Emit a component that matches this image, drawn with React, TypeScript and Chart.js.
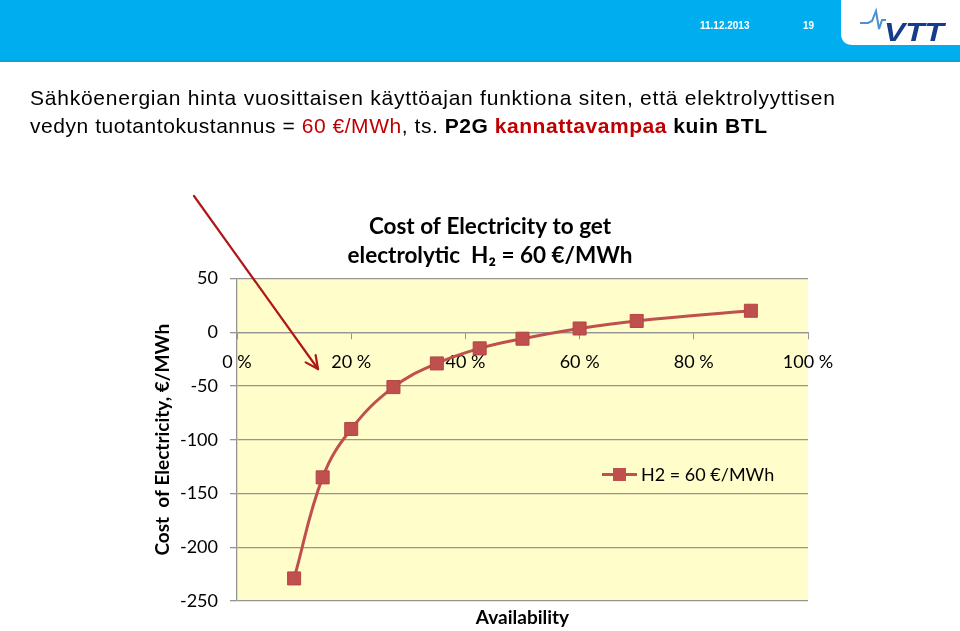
import React, { useEffect, useRef } from 'react';
import { Chart, registerables } from 'chart.js';

Chart.register(...registerables);

// ---- data ----
const availabilityPct = [10, 15, 20, 27.4, 35, 42.5, 50, 60, 70, 90];
const costEurPerMWh = [-229, -135, -90, -51, -29, -15, -6, 3.5, 10.5, 20];
const xTickValues = [0, 20, 40, 60, 80, 100];
const yTickValues = [-250, -200, -150, -100, -50, 0, 50];
const seriesLabel = 'H2 = 60 €/MWh';
const chartTitleLines = ['Cost of Electricity to get', 'electrolytic  H₂ = 60 €/MWh'];
const yAxisTitle = 'Cost  of Electricity, €/MWh';
const xAxisTitle = 'Availability';

const FONT = 'Lato, "Open Sans", sans-serif';
const RED = '#C0504D';
const GRID = '#959595';

const plotBg = {
  id: 'plotBg',
  beforeDraw(chart: any) {
    const { ctx, chartArea: a } = chart;
    ctx.save();
    ctx.fillStyle = '#FFFDC9';
    ctx.fillRect(a.left, a.top, a.right - a.left, a.bottom - a.top);
    ctx.restore();
  },
};

const insideLegend = {
  id: 'insideLegend',
  afterDraw(chart: any) {
    const { ctx, chartArea: a } = chart;
    const ds = chart.data.datasets[0];
    const x0 = a.left + 365;
    const y0 = a.top + 196;
    ctx.save();
    ctx.strokeStyle = ds.borderColor;
    ctx.lineWidth = 3;
    ctx.beginPath();
    ctx.moveTo(x0, y0);
    ctx.lineTo(x0 + 35, y0);
    ctx.stroke();
    ctx.fillStyle = ds.pointBackgroundColor;
    ctx.fillRect(x0 + 17.5 - 6.5, y0 - 6.5, 13, 13);
    ctx.fillStyle = '#000';
    ctx.font = `18px ${FONT}`;
    ctx.textBaseline = 'middle';
    ctx.textAlign = 'left';
    ctx.fillText(ds.label, x0 + 39, y0 + 1);
    ctx.restore();
  },
};

function ChartCanvas() {
  const ref = useRef<HTMLCanvasElement>(null);
  useEffect(() => {
    if (!ref.current) return;
    const chart = new Chart(ref.current, {
      type: 'line',
      data: {
        labels: availabilityPct,
        datasets: [
          {
            label: seriesLabel,
            data: availabilityPct.map((x, i) => ({ x, y: costEurPerMWh[i] })),
            borderColor: RED,
            backgroundColor: RED,
            pointBackgroundColor: RED,
            pointBorderColor: '#B44542',
            pointBorderWidth: 1,
            pointStyle: 'rect',
            pointRadius: 9.2,
            borderWidth: 3,
            tension: 0.4,
            fill: false,
          },
        ],
      },
      options: {
        animation: false,
        responsive: false,
        maintainAspectRatio: false,
        layout: { padding: 0 },
        plugins: {
          legend: { display: false },
          tooltip: { enabled: false },
          title: {
            display: true,
            text: chartTitleLines,
            color: '#000',
            font: { family: FONT, size: 22.5, weight: 'bold', lineHeight: 1.3 },
            padding: { top: 22, bottom: 8 },
          },
        },
        scales: {
          x: {
            type: 'linear',
            position: { y: 0 } as any,
            min: 0,
            max: 100,
            afterBuildTicks: (s: any) => {
              s.ticks = xTickValues.map((v) => ({ value: v }));
            },
            afterFit: (s: any) => {
              s.paddingLeft = 0;
              s.paddingRight = 0;
            },
            ticks: {
              callback: (v: any) => `${v} %`,
              color: '#000',
              font: { family: FONT, size: 18 },
              padding: 13,
              maxRotation: 0,
              autoSkip: false,
            },
            grid: { drawOnChartArea: false, drawTicks: true, tickLength: 6, color: GRID },
            border: { display: true, color: GRID, width: 1.3 },
          },
          x2: {
            type: 'linear',
            position: 'bottom',
            min: 0,
            max: 100,
            ticks: { display: false },
            grid: { display: false, drawTicks: false },
            border: { display: false },
            title: {
              display: true,
              text: xAxisTitle,
              color: '#000',
              font: { family: FONT, size: 19, weight: 'bold', lineHeight: 1.2 },
              padding: { top: 0, bottom: 2 },
            },
            afterFit: (s: any) => {
              s.height = 30;
              s.paddingLeft = 0;
              s.paddingRight = 0;
            },
          },
          y: {
            type: 'linear',
            position: 'left',
            min: -250,
            max: 50,
            afterBuildTicks: (s: any) => {
              s.ticks = yTickValues.map((v) => ({ value: v }));
            },
            ticks: {
              color: '#000',
              font: { family: FONT, size: 18 },
              padding: 12,
            },
            grid: { color: GRID, lineWidth: 1.3, tickLength: 7 },
            border: { display: true, color: GRID, width: 1.3 },
            title: {
              display: true,
              text: yAxisTitle,
              color: '#000',
              font: { family: FONT, size: 19, weight: 'bold', lineHeight: 1.2 },
              padding: { top: 11.5, bottom: 0 },
            },
            afterFit: (s: any) => {
              s.width = 97;
            },
          },
          yRightSpacer: {
            type: 'linear',
            position: 'right',
            min: -250,
            max: 50,
            ticks: { display: false },
            grid: { display: false, drawTicks: false },
            border: { display: false },
            afterFit: (s: any) => {
              s.width = 32;
            },
          },
        },
      } as any,
      plugins: [plotBg, insideLegend],
    });
    return () => chart.destroy();
  }, []);
  return (
    <canvas
      ref={ref}
      width={700}
      height={441}
      style={{ position: 'absolute', left: 140, top: 190, width: 700, height: 441 }}
    />
  );
}

function Overlay() {
  // arrow geometry
  const x1 = 194, y1 = 196, x2 = 318, y2 = 369;
  const dx = x2 - x1, dy = y2 - y1;
  const len = Math.hypot(dx, dy);
  const ux = dx / len, uy = dy / len;
  const head = 14, ang = (26 * Math.PI) / 180;
  const rot = (a: number) => [ux * Math.cos(a) - uy * Math.sin(a), ux * Math.sin(a) + uy * Math.cos(a)];
  const [ax, ay] = rot(ang);
  const [bx, by] = rot(-ang);
  return (
    <svg
      width={960}
      height={631}
      style={{ position: 'absolute', left: 0, top: 0, pointerEvents: 'none' }}
    >
      <rect x={0} y={0} width={960} height={62} fill="#00AEEF" />
      <rect x={0} y={60} width={960} height={2} fill="#0AA2D8" />
      <path d="M841 0 H960 V45 H853 Q841 45 841 33 Z" fill="#fff" />
      <text x={700} y={29} fill="#fff" fontFamily="Liberation Sans, Arial, sans-serif" fontWeight="bold" fontSize={10}>
        11.12.2013
      </text>
      <text x={803} y={29} fill="#fff" fontFamily="Liberation Sans, Arial, sans-serif" fontWeight="bold" fontSize={10}>
        19
      </text>
      <polyline
        points="860,23 868,23 872,21 876,11 879,29 882,20 886,20"
        fill="none"
        stroke="#4F8FD0"
        strokeWidth={2}
      />
      <text
        x={884}
        y={41}
        fill="#163A8C"
        fontFamily="Liberation Sans, Arial, sans-serif"
        fontWeight="bold"
        fontStyle="italic"
        fontSize={26}
        textLength={60}
        lengthAdjust="spacingAndGlyphs"
      >
        VTT
      </text>

      <text
        x={30}
        y={105}
        fill="#000"
        fontFamily="Liberation Sans, Arial, sans-serif"
        fontSize={21}
        textLength={805}
        lengthAdjust="spacing"
      >
        Sähköenergian hinta vuosittaisen käyttöajan funktiona siten, että elektrolyyttisen
      </text>
      <text
        x={30}
        y={133}
        fill="#000"
        fontFamily="Liberation Sans, Arial, sans-serif"
        fontSize={21}
        textLength={737}
        lengthAdjust="spacing"
      >
        vedyn tuotantokustannus = <tspan fill="#C00000">60 €/MWh</tspan>, ts.{' '}
        <tspan fontWeight="bold">P2G </tspan>
        <tspan fontWeight="bold" fill="#C00000">kannattavampaa</tspan>
        <tspan fontWeight="bold"> kuin BTL</tspan>
      </text>

      <g stroke="#B01818" strokeWidth={2.2} fill="none" strokeLinecap="round">
        <line x1={x1} y1={y1} x2={x2} y2={y2} />
        <line x1={x2} y1={y2} x2={x2 - head * ax} y2={y2 - head * ay} />
        <line x1={x2} y1={y2} x2={x2 - head * bx} y2={y2 - head * by} />
      </g>
    </svg>
  );
}

export default function App() {
  return (
    <div
      style={{
        position: 'fixed',
        left: 0,
        top: 0,
        width: 960,
        height: 631,
        background: '#fff',
        overflow: 'hidden',
      }}
    >
      <ChartCanvas />
      <Overlay />
    </div>
  );
}
